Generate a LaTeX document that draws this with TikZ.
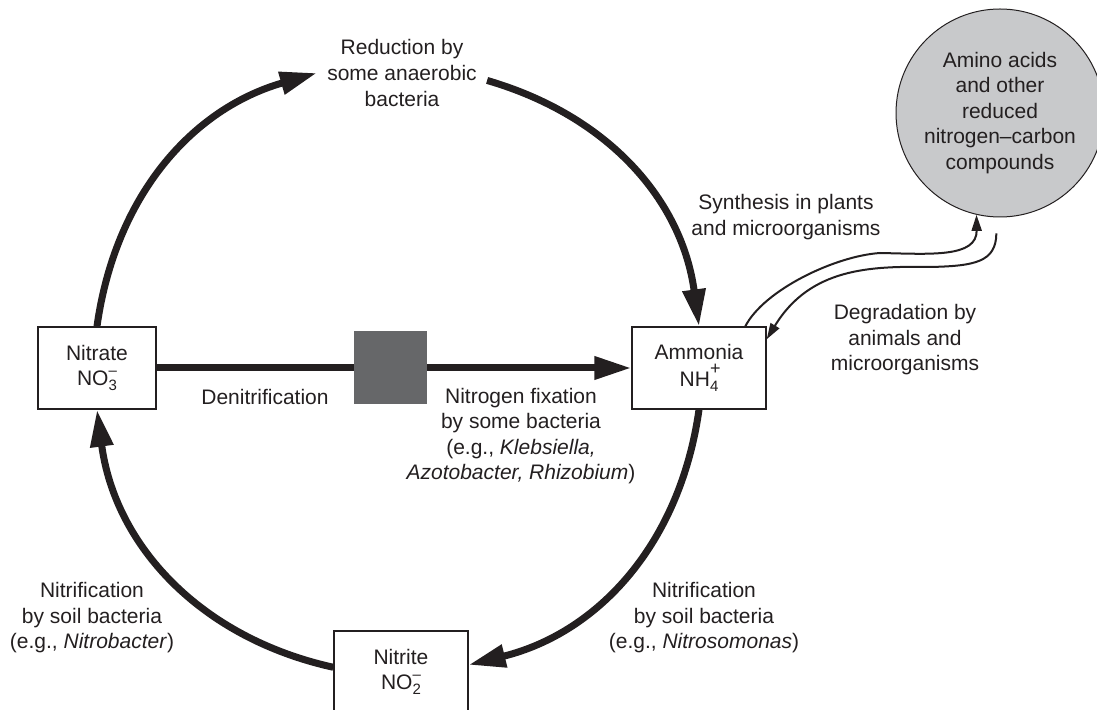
\documentclass[tikz,border=0pt]{standalone}
\usepackage{fontspec}
\setmainfont{Liberation Sans}
\usepackage{xcolor}
\usetikzlibrary{arrows.meta, positioning}

\definecolor{ink}{RGB}{35,31,32}
\definecolor{gapgrey}{RGB}{102,103,105}
\definecolor{aminogrey}{RGB}{200,201,203}

\newcommand{\chemsmall}{\fontsize{7.5}{8}\selectfont}
\newcommand{\chemion}[3][5pt]{\rlap{\raisebox{#1}{\chemsmall#3}}\raisebox{-2.5pt}{\chemsmall#2}}

\begin{document}
\begin{tikzpicture}[
x=0.5pt, y=-0.5pt,
color=ink,
font=\fontsize{10.5}{12.75}\selectfont,
chembox/.style={
rectangle,
draw=ink,
line width=0.7pt,
fill=white,
minimum height=41pt,
inner sep=0pt,
align=center
},
note/.style={
align=center,
inner sep=2pt
},
cycle/.style={draw=ink, line width=3.5pt, -{Triangle[length=18.5pt,width=11pt]}},
bar/.style={draw=ink, line width=3.5pt},
thinarrow/.style={draw=ink, line width=1pt, -{Triangle[length=8pt,width=5pt]}}
]
\useasboundingbox (0,0) rectangle (1097,710);

% Compounds
\node[chembox, minimum width=59pt] (nitrate) at (97,368) {Nitrate\\NO\chemion{3}{--}};
\node[chembox, minimum width=67pt] (ammonia) at (699,368)
{Ammonia\\[1pt]NH\chemion[6pt]{4}{\fontsize{9}{9}\selectfont+}};
\node[chembox, minimum width=67pt] (nitrite) at (401,672) {Nitrite\\NO\chemion{2}{--}};
\node[circle, draw=ink, line width=0.5pt, fill=aminogrey, minimum size=104pt,
inner sep=0pt, align=center] (amino) at (1000,113)
{Amino acids\\and other\\reduced\\nitrogen--carbon\\compounds};

% Labels
\node[note, inner xsep=5pt] (reduct) at (402,73) {Reduction by\\some anaerobic\\bacteria};
\node[note] (denitr) at (265,397) {Denitrification};
\node[note] (fixation) at (521,436)
{Nitrogen fixation\\by some bacteria\\(e.g., \textit{Klebsiella,}\\\textit{Azotobacter, Rhizobium})};
\node[note] (nitrifleft) at (92,618)
{Nitrification\\by soil bacteria\\(e.g., \textit{Nitrobacter})};
\node[note] (nitrifright) at (704,618)
{Nitrification\\by soil bacteria\\(e.g., \textit{Nitrosomonas})};
\node[note] (synth) at (786,217) {Synthesis in plants\\and microorganisms};
\node[note] (degr) at (905,340) {Degradation by\\animals and\\microorganisms};

% Cycle
\draw[cycle] (nitrate.north) to[bend left=33] (reduct.west);
\draw[cycle] (reduct.-5) to[bend left=33] (ammonia.north);
\draw[cycle] (ammonia.south) to[bend left=34] (nitrite.6);
\draw[cycle] (nitrite.176) to[bend left=35] (nitrate.south);

% Fixation line, blocked by denitrification
\node[fill=gapgrey, minimum size=36.5pt, inner sep=0pt] (gap) at (390.5,368) {};
\draw[bar] (nitrate.east) -- (gap.west);
\draw[cycle] (gap.east) -- (ammonia.west);

% Exchange with amino acids
\draw[thinarrow] (ammonia.42) .. controls (764,290) and (835,256) .. (880,253)
.. controls (930,254) and (977,258) .. (amino.257);
\draw[thinarrow] ([yshift=-8pt]amino.268) .. controls (996,262) and (975,266) .. (930,267)
.. controls (870,266) and (810,268) .. (ammonia.23);

\end{tikzpicture}
\end{document}
